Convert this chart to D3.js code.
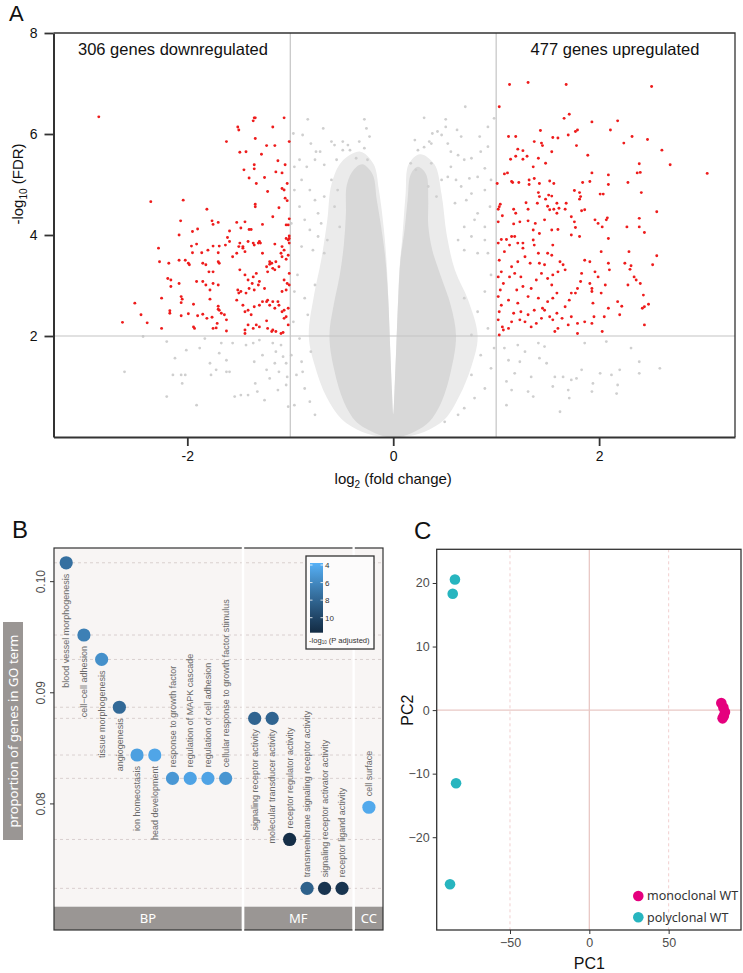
<!DOCTYPE html>
<html>
<head>
<meta charset="utf-8">
<script src="https://cdn.jsdelivr.net/npm/d3@7"></script>
<style>
  body { margin: 0; background: #fff; }
  svg { display: block; font-family: "Liberation Sans", Arial, sans-serif; }
</style>
</head>
<body>
<svg id="fig" width="743" height="973"></svg>
<script>
// ---------- Panel A: volcano plot data (log2 fold change, -log10 FDR) ----------
const downGenes = [
  [-2.86,6.34],[-2.355,4.66],[-2.04,4.69],[-1.81,4.51],[-2.065,4.28],[-1.76,4.28],[-1.75,4.21],[-1.70,4.25],[-1.95,4.07],[-1.90,4.12],
  [-2.08,4.00],[-1.62,5.85],[-1.51,6.14],[-1.50,6.08],[-1.35,6.32],[-1.34,6.32],[-1.36,6.26],[-1.06,6.32],[-1.17,6.14],[-1.34,5.91],
  [-1.49,5.64],[-1.43,5.65],[-1.23,5.77],[-1.15,5.77],[-1.28,5.60],[-1.01,5.85],[-1.45,5.29],[-1.35,5.39],[-1.35,5.31],[-1.12,5.47],
  [-1.40,5.13],[-1.25,5.14],[-1.14,5.25],[-1.08,5.23],[-1.05,5.39],[-1.33,5.02],[-1.03,5.02],[-1.22,4.86],[-1.08,4.92],[-1.06,4.89],
  [-1.05,4.73],[-1.03,4.68],[-1.34,4.61],[-1.34,4.56],[-1.11,4.54],[-1.17,4.36],[-1.01,4.32],[-1.52,4.25],[-1.44,4.26],[-1.48,4.14],
  [-1.40,4.11],[-1.38,4.11],[-1.27,4.21],[-1.04,4.20],[-1.02,4.20],[-1.61,3.95],[-1.59,4.08],[-1.50,3.77],[-1.46,3.77],[-1.36,3.84],
  [-1.35,3.80],[-1.30,3.87],[-1.29,3.84],[-1.15,3.82],[-1.08,3.77],[-1.04,3.93],[-1.01,3.98],[-1.02,3.90],[-2.28,3.74],
  [-2.27,3.47],[-2.18,3.44],[-2.08,3.50],[-2.02,3.50],[-1.99,3.44],[-1.98,3.41],[-1.96,3.78],[-1.91,3.82],[-1.86,3.65],[-1.80,3.70],
  [-1.75,3.78],[-1.70,3.65],[-1.69,3.78],[-1.95,3.65],[-1.85,3.44],[-1.82,3.41],[-1.79,3.27],[-1.70,3.47],[-1.69,3.44],[-1.75,3.27],
  [-1.63,3.80],[-1.59,3.87],[-1.56,3.57],[-1.52,3.64],[-1.49,3.84],[-1.46,3.74],[-1.44,3.67],[-1.41,3.87],[-1.31,3.84],[-1.27,3.64],
  [-1.20,3.47],[-1.18,3.44],[-1.14,3.47],[-1.11,3.37],[-1.17,3.34],[-1.15,3.31],[-1.22,3.27],[-1.09,3.64],[-1.08,3.57],[-1.06,3.70],
  [-1.04,3.52],[-1.02,3.60],[-1.01,3.93],[-1.01,3.84],
  [-1.91,3.08],[-1.85,3.08],[-1.82,3.01],[-1.78,2.91],[-1.75,3.04],[-1.70,3.01],[-2.19,3.14],[-2.16,3.11],[-2.08,3.04],[-2.16,2.98],
  [-2.06,2.78],[-2.05,2.73],[-1.94,2.63],[-2.06,2.66],[-2.25,2.75],[-2.51,2.65],[-2.17,2.50],[-2.17,2.45],[-2.45,2.42],[-2.39,2.26],
  [-2.63,2.27],[-2.25,2.15],[-2.06,2.40],[-1.99,2.44],[-1.94,2.18],[-1.93,2.15],[-1.90,2.40],[-1.85,2.43],[-1.81,2.35],[-1.76,2.37],
  [-1.71,2.25],[-1.70,2.53],[-1.69,2.51],[-1.62,2.32],[-1.62,2.10],[-1.78,2.73],[-1.70,2.59],[-1.67,2.45],[-1.64,2.42],[-1.75,2.15],
  [-1.72,2.16],[-1.52,2.71],[-1.51,2.91],[-1.50,2.85],[-1.48,2.88],[-1.43,2.85],[-1.40,2.94],[-1.37,3.04],[-1.35,2.91],[-1.31,3.01],
  [-1.30,3.08],[-1.25,2.94],[-1.23,2.68],[-1.22,2.71],[-1.20,2.61],[-1.17,2.68],[-1.15,2.55],[-1.12,2.68],[-1.11,2.61],[-1.08,2.48],
  [-1.06,2.51],[-1.04,2.38],[-1.02,2.55],[-1.02,2.22],[-1.06,2.35],[-1.46,2.61],[-1.44,2.48],[-1.41,2.51],[-1.38,2.42],[-1.35,2.58],
  [-1.30,2.61],[-1.27,2.68],[-1.33,2.22],[-1.30,2.18],[-1.23,2.30],[-1.22,2.15],[-1.17,2.12],[-1.14,2.09],[-1.09,2.05],[-1.07,2.07],
  [-1.44,2.12],[-1.41,2.22],[-1.36,2.15],[-1.18,2.09],[-1.44,2.05],[-1.49,3.31],[-1.44,3.21],[-1.41,3.11],[-1.36,3.17],[-1.33,3.24],
  [-1.23,3.37],[-1.20,3.42],[-1.06,3.11],[-1.03,3.04],[-1.08,2.88],[-1.04,2.91],[-1.01,3.24],[-1.01,3.01]
];
const upGenes = [
  [1.13,6.98],[1.31,7.02],[1.68,6.98],[2.51,6.94],[1.03,6.54],[1.66,6.31],[1.71,6.39],[1.93,6.24],[2.18,6.26],[1.43,6.07],
  [1.12,5.95],[1.19,5.95],[1.55,5.93],[1.60,5.92],[1.70,5.98],[1.77,6.05],[1.79,6.08],[2.11,6.08],[2.32,5.95],[2.47,5.89],
  [2.24,5.82],[2.61,5.68],[1.37,5.85],[1.44,5.82],[1.45,5.77],[1.78,5.77],[1.89,5.58],[1.54,5.65],[1.21,5.70],[1.26,5.67],
  [1.30,5.56],[1.19,5.56],[1.26,5.50],[1.41,5.52],[1.14,5.50],[1.36,5.35],[1.48,5.42],[2.69,5.39],[3.05,5.22],[2.39,5.41],
  [2.37,5.23],[2.40,5.24],[2.28,5.04],[2.09,5.19],[2.09,5.00],[1.93,5.23],[1.91,5.06],[1.84,5.04],[1.08,5.21],[1.11,5.23],
  [1.15,5.06],[1.16,5.04],[1.22,5.04],[1.32,5.09],[1.32,5.00],[1.01,5.02],[1.37,5.12],[1.52,5.07],[1.56,5.02],[1.42,5.02],
  [2.41,4.84],[2.56,4.46],[2.01,4.81],[2.04,4.81],[1.76,4.88],[1.81,4.84],[1.82,4.76],[1.81,4.71],[1.41,4.84],[1.42,4.76],
  [1.48,4.71],[1.51,4.79],[1.54,4.77],[1.59,4.63],[1.61,4.53],[1.68,4.63],[1.73,4.36],[1.83,4.48],[1.86,4.50],[2.08,4.34],
  [1.04,4.61],[1.02,4.51],[1.03,4.56],[1.06,4.38],[1.02,4.26],[1.17,4.51],[1.19,4.43],[1.29,4.64],[1.31,4.51],[1.40,4.63],
  [1.50,4.57],[1.59,4.43],[1.31,4.28],[1.38,4.23],[1.47,4.30],[1.52,4.50],[1.56,4.51],[1.67,4.51],[1.76,4.26],[1.77,4.15],
  [1.96,4.30],[1.99,4.23],[2.03,4.16],[2.07,4.30],[2.27,4.16],[2.39,4.33],[2.39,4.16],[2.44,4.05],[1.17,4.22],[1.23,4.26],
  [1.36,4.10],[1.10,3.91],[1.05,3.91],[1.18,3.97],[1.26,3.84],[1.36,3.90],[1.42,4.03],[1.54,4.10],[1.60,4.11],[1.73,4.00],
  [1.81,3.97],[2.09,3.93],[2.29,3.67],[2.56,3.59],[2.52,3.41],[2.25,3.44],[2.31,3.39],[2.30,3.32],[2.34,3.17],[2.36,3.11],
  [2.28,3.01],[2.40,3.04],[2.43,2.81],[2.44,2.58],[2.48,2.63],[2.42,2.55],[2.44,2.22],[2.20,2.42],[2.18,2.68],[2.22,2.59],
  [2.05,2.38],[2.09,2.55],[2.02,3.67],[2.09,3.44],[2.10,3.31],[2.06,3.01],[2.02,2.85],[1.93,2.88],[1.94,2.65],[1.95,2.38],
  [2.03,2.09],[1.93,2.25],[1.86,2.28],[1.79,2.25],[1.79,2.05],[1.86,3.50],[1.91,3.47],[1.96,3.27],[1.99,3.17],[1.91,3.04],
  [1.93,2.94],[1.83,3.24],[1.82,3.08],[1.79,2.94],[1.77,2.85],[1.73,2.85],[1.71,2.71],[1.67,2.58],[1.73,2.38],[1.70,2.22],
  [1.64,2.35],[1.60,2.15],[1.57,2.09],[1.55,2.32],[1.59,2.45],[1.62,3.47],[1.65,3.41],[1.67,3.31],[1.60,3.27],[1.55,3.21],
  [1.50,3.14],[1.54,3.01],[1.59,2.85],[1.55,2.75],[1.50,2.68],[1.47,2.51],[1.52,2.38],[1.44,2.35],[1.39,2.25],[1.34,2.18],
  [1.31,2.42],[1.28,2.28],[1.24,2.48],[1.23,2.32],[1.37,3.80],[1.41,3.64],[1.42,3.44],[1.44,3.24],[1.39,3.11],[1.34,2.94],
  [1.31,2.78],[1.41,2.75],[1.45,2.55],[1.37,2.51],[1.50,3.64],[1.47,3.41],[1.55,3.80],[1.54,3.60],[1.28,3.57],[1.33,3.44],
  [1.21,3.47],[1.18,3.24],[1.24,3.17],[1.26,2.98],[1.15,3.37],[1.13,3.17],[1.20,2.91],[1.12,2.71],[1.21,2.65],[1.17,2.45],
  [1.15,2.28],[1.12,2.15],[1.07,2.12],[1.03,2.02],[1.06,2.18],[1.02,2.32],[1.03,2.48],[1.05,2.61],[1.02,2.78],[1.04,2.91],
  [1.07,3.04],[1.02,3.17],[1.05,3.27],[1.03,3.50],[1.08,3.67],[1.02,3.84],[1.13,3.80],[1.21,3.84],[1.26,3.74],[1.15,3.97]
];
// non-significant genes drawn one by one outside the dense core
const otherGenes = [
  [-2.61,1.29],[-2.43,1.99],[-2.20,1.89],[-2.12,1.56],[-2.20,0.80],[-2.14,1.23],[-2.06,1.23],[-2.02,1.23],[-2.05,1.06],[-2.01,1.72],
  [-1.91,0.63],[-1.88,1.76],[-1.83,1.95],[-1.78,1.46],[-1.77,1.23],[-1.72,1.33],[-1.69,1.66],[-1.67,1.86],[-1.62,1.52],[-1.62,1.29],
  [-1.59,1.29],[-1.56,1.86],[-1.54,0.80],[-1.48,0.83],[-1.41,0.83],[-1.43,1.82],[-1.36,1.86],[-1.35,1.49],[-1.34,1.06],[-1.32,0.90],
  [-1.30,1.92],[-1.27,1.62],[-1.25,0.73],[-1.23,1.33],[-1.20,1.16],[-1.17,1.86],[-1.15,1.46],[-1.14,1.69],[-1.12,0.93],[-1.11,1.29],
  [-1.09,1.82],[-1.07,1.59],[-1.04,1.03],[-1.04,1.46],[-1.02,0.60],[-1.03,1.19],
  [1.08,1.76],[1.12,1.52],[1.10,1.10],[1.15,0.93],[1.10,0.63],[1.18,1.26],[1.21,1.82],[1.23,1.49],[1.28,1.69],[1.31,0.90],
  [1.34,1.19],[1.36,0.80],[1.41,1.86],[1.42,1.56],[1.47,1.79],[1.49,1.46],[1.55,1.00],[1.57,1.19],[1.62,0.50],[1.65,1.19],
  [1.70,0.93],[1.71,0.77],[1.73,1.13],[1.78,1.16],[1.83,1.33],[1.86,1.86],[1.93,0.90],[1.94,1.06],[2.01,1.26],[2.07,1.89],
  [2.12,1.23],[2.18,1.03],[2.17,0.86],[2.20,1.33],[2.31,1.76],[2.39,1.26],[2.39,1.49],[2.59,1.36],
  [-0.83,6.29],[-0.28,6.29],[-0.26,6.11],[-0.68,6.11],[-0.88,5.98],[-0.97,6.01],[0.30,6.32],[0.51,6.29],[0.70,6.54],[0.51,6.14],
  [0.43,6.05],[0.38,6.01],[0.47,5.98],[0.35,5.85],[0.37,5.81],[0.62,6.08],[0.66,5.95],[0.92,6.14],[0.84,5.95],[0.98,6.31],
  [0.21,5.88],[0.24,5.68],[0.30,5.74],[-0.80,5.81],[-0.75,5.65],[-0.71,5.65],[-0.60,5.85],[-0.57,5.78],[-0.49,5.85],[-0.44,5.78],
  [-0.42,5.68],[-0.33,5.85],[-0.28,5.72],[-0.23,5.95],[-0.49,5.68],[-0.91,5.49],[-0.96,5.35],[-0.84,5.35],[-0.76,5.49],[-0.67,5.39],
  [-0.55,5.49],[-0.36,5.52],[-0.25,5.49],[-0.89,5.09],[-0.96,4.89],[-0.81,4.89],[-0.76,4.69],[-0.91,4.56],[-0.86,4.30],[-0.73,4.43],
  [-0.99,4.23],[-0.81,4.10],[-0.73,3.97],[-0.89,3.77],[-0.78,3.70],[-0.67,3.64],[-0.64,3.90],
  [0.53,5.81],[0.56,5.65],[0.63,5.58],[0.69,5.49],[0.76,5.52],[0.85,5.65],[0.92,5.75],[0.89,5.32],[0.82,5.15],[0.74,5.12],
  [0.66,4.96],[0.61,5.09],[0.56,5.35],[0.53,5.15],[0.76,4.82],[0.89,4.89],[0.95,5.09],[0.71,4.69],[0.60,4.63],[0.82,4.43],
  [0.94,4.56],[0.79,4.30],[0.69,4.16],[0.89,4.16],[0.76,3.97],[0.89,3.90],[0.63,3.90],[0.69,3.70],[0.82,3.64],[0.92,3.64],
  [-0.60,5.09],[-0.54,4.89],[-0.67,4.76],[-0.57,4.56],[-0.70,4.23],[-0.52,4.16],[0.17,5.42],[0.22,5.29],[0.47,5.09],[0.37,5.42],
  [0.42,4.76],[0.34,4.96],
  [-0.93,3.21],[-0.96,2.88],[-0.86,2.75],[-0.97,2.28],[-0.91,1.95],[-0.99,1.62],[-0.89,1.49],[-0.94,1.23],[-0.86,0.96],[-0.81,0.70],
  [-0.96,0.63],[-0.76,0.44],[-0.88,1.29],[-0.80,1.69],[-0.83,2.42],[-0.76,3.01],
  [0.95,3.21],[0.89,2.88],[0.82,2.48],[0.92,2.15],[0.98,1.76],[0.85,1.62],[0.95,1.36],[0.76,1.23],[0.89,0.96],[0.79,0.77],
  [0.69,0.57],[0.63,0.44],[0.50,0.30],[0.76,2.02],[0.69,2.75]
];
// outline of the densely packed V of non-significant genes
const coreCloud = [
  [-0.06,0],[-0.22,0.12],[-0.36,0.3],[-0.48,0.7],[-0.57,1.3],[-0.62,2.0],[-0.58,2.6],[-0.52,3.2],[-0.48,3.8],[-0.46,4.4],
  [-0.45,5.0],[-0.38,5.3],[-0.30,5.4],[-0.20,5.2],[-0.16,4.7],[-0.12,4.2],[-0.08,3.6],[-0.05,2.8],[-0.03,1.8],[-0.012,0.9],
  [0,0.45],[0.012,0.9],[0.03,1.8],[0.05,2.8],[0.07,3.5],[0.11,4.1],[0.14,4.7],[0.17,5.2],[0.24,5.35],[0.32,5.2],
  [0.34,4.7],[0.34,4.2],[0.38,3.7],[0.46,3.2],[0.56,2.6],[0.61,2.0],[0.56,1.3],[0.47,0.7],[0.35,0.3],[0.22,0.12],[0.06,0]
];
const haloCloud = [
  [-0.10,0],[-0.30,0.1],[-0.50,0.35],[-0.65,0.8],[-0.76,1.4],[-0.82,2.0],[-0.77,2.8],[-0.70,3.5],[-0.64,4.3],[-0.60,5.0],
  [-0.50,5.45],[-0.32,5.65],[-0.19,5.4],[-0.14,4.9],[-0.09,4.1],[-0.06,3.3],[-0.04,2.3],[-0.015,1.0],[0,0.45],[0.015,1.0],
  [0.04,2.3],[0.06,3.3],[0.09,4.0],[0.12,4.8],[0.15,5.4],[0.26,5.6],[0.40,5.4],[0.47,4.8],[0.52,4.0],[0.60,3.3],
  [0.73,2.7],[0.82,2.0],[0.76,1.4],[0.64,0.8],[0.50,0.35],[0.30,0.1],[0.10,0]
];
const fcCut = 1;
const fdrCut = 2;
const downLabel = "306 genes downregulated";
const upLabel = "477 genes upregulated";
const volcanoXTicks = [-2, 0, 2];
const volcanoYTicks = [2, 4, 6, 8];

// ---------- Panel B: GO enrichment ----------
const goTerms = [
  "blood vessel morphogenesis", "cell\u2212cell adhesion", "tissue morphogenesis", "angiogenesis",
  "ion homeostasis", "head development", "response to growth factor", "regulation of MAPK cascade",
  "regulation of cell adhesion", "cellular response to growth factor stimulus",
  "signaling receptor activity", "molecular transducer activity", "receptor regulator activity",
  "transmembrane signaling receptor activity", "signaling receptor activator activity", "receptor ligand activity",
  "cell surface"
];
const goOntology = ["BP","BP","BP","BP","BP","BP","BP","BP","BP","BP","MF","MF","MF","MF","MF","MF","CC"];
const goProportion = [0.1017, 0.0952, 0.0930, 0.0887, 0.0844, 0.0844, 0.0823, 0.0823, 0.0823, 0.0823,
                      0.0877, 0.0877, 0.0768, 0.0724, 0.0724, 0.0724, 0.0797];
const goNegLogP = [7.4, 6.5, 5.6, 7.8, 4.7, 4.4, 5.2, 4.5, 4.5, 5.3, 8.1, 8.1, 11.5, 8.3, 11.1, 11.1, 4.2];
const ontologies = ["BP", "MF", "CC"];
const goYTicks = [0.08, 0.09, 0.10];
const colorTicks = [4, 6, 8, 10];

// ---------- Panel C: PCA ----------
const pcaGroups = ["monoclonal WT", "polyclonal WT"];
const monoPC1 = [83.2, 84.5, 85.5, 84.8, 84.0];
const monoPC2 = [1.1, 0.4, -0.3, -0.9, -1.3];
const polyPC1 = [-84.7, -86.1, -84.0, -87.8];
const polyPC2 = [20.55, 18.3, -11.5, -27.4];
const pcaXTicks = [-50, 0, 50];
const pcaYTicks = [-20, -10, 0, 10, 20];

const svg = d3.select("#fig");
const minus = v => String(v).replace("-", "\u2212");

// ================= Panel A =================
const a = {left: 53.5, right: 735, top: 33, bottom: 437};
const xA = d3.scaleLinear().domain([-3.3, 3.32]).range([a.left, a.right]);
const yA = d3.scaleLinear().domain([0, 8]).range([a.bottom, a.top]);
const gA = svg.append("g");

gA.append("clipPath").attr("id", "clipA")
  .append("rect").attr("x", a.left).attr("y", a.top)
  .attr("width", a.right - a.left).attr("height", a.bottom - a.top);

const cloudLine = d3.line()
  .x(d => xA(d[0])).y(d => yA(d[1]))
  .curve(d3.curveCatmullRomClosed.alpha(0.5));

const cloud = gA.append("g").attr("clip-path", "url(#clipA)");
cloud.append("path").datum(haloCloud).attr("d", cloudLine).attr("fill", "#ebebeb");
cloud.append("path").datum(coreCloud).attr("d", cloudLine).attr("fill", "#d8d8d8");
cloud.selectAll("circle.other").data(otherGenes).join("circle")
  .attr("class", "other")
  .attr("cx", d => xA(d[0])).attr("cy", d => yA(d[1]))
  .attr("r", 1.4).attr("fill", "#cfcfcf");

// threshold lines
gA.append("line").attr("x1", a.left).attr("x2", a.right)
  .attr("y1", yA(fdrCut)).attr("y2", yA(fdrCut))
  .attr("stroke", "#c4c4c4").attr("stroke-width", 1.2);
[-fcCut, fcCut].forEach(v => {
  gA.append("line").attr("x1", xA(v)).attr("x2", xA(v))
    .attr("y1", a.top).attr("y2", a.bottom)
    .attr("stroke", "#c4c4c4").attr("stroke-width", 1.2);
});

gA.selectAll("circle.sig").data(downGenes.concat(upGenes)).join("circle")
  .attr("class", "sig")
  .attr("cx", d => xA(d[0])).attr("cy", d => yA(d[1]))
  .attr("r", 1.45).attr("fill", "#ee1c1c");

// frame + axes
gA.append("path")
  .attr("d", `M${a.left},${a.top}H${a.right}V${a.bottom}`)
  .attr("fill", "none").attr("stroke", "#333").attr("stroke-width", 1.3);

const axA_y = gA.append("g").attr("transform", `translate(${a.left},0)`)
  .call(d3.axisLeft(yA).tickValues(volcanoYTicks).tickSize(9).tickPadding(7).tickSizeOuter(0));
const axA_x = gA.append("g").attr("transform", `translate(0,${a.bottom})`)
  .call(d3.axisBottom(xA).tickValues(volcanoXTicks).tickSize(9).tickPadding(5)
    .tickFormat(d => String(d)).tickSizeOuter(0));
[axA_y, axA_x].forEach(ax => {
  ax.select(".domain").attr("stroke", "#333").attr("stroke-width", 2);
  ax.selectAll(".tick line").attr("stroke", "#333").attr("stroke-width", 1.8);
  ax.selectAll(".tick text").attr("font-size", 14).attr("fill", "#111")
    .attr("font-family", "Liberation Sans, Arial, sans-serif");
});

gA.append("text").attr("x", 78).attr("y", 55).attr("font-size", 16.5).attr("fill", "#111").text(downLabel);
gA.append("text").attr("x", 615).attr("y", 55).attr("text-anchor", "middle")
  .attr("font-size", 16.5).attr("fill", "#111").text(upLabel);

const xLabA = gA.append("text").attr("x", xA(0)).attr("y", 484).attr("text-anchor", "middle")
  .attr("font-size", 15).attr("fill", "#111");
xLabA.append("tspan").text("log");
xLabA.append("tspan").attr("font-size", 10).attr("dy", 4).text("2");
xLabA.append("tspan").attr("dy", -4).text(" (fold change)");

const yLabA = gA.append("text").attr("transform", "translate(23,184) rotate(-90)")
  .attr("text-anchor", "middle").attr("font-size", 15).attr("fill", "#111");
yLabA.append("tspan").text("-log");
yLabA.append("tspan").attr("font-size", 10).attr("dy", 4).text("10");
yLabA.append("tspan").attr("dy", -4).text(" (FDR)");

svg.append("text").attr("x", 9).attr("y", 21).attr("font-size", 22).attr("fill", "#111").text("A");

// ================= Panel B =================
const b = {left: 54, right: 383, top: 548, plotBottom: 906.7, bottom: 930};
const facets = [
  {id: "BP", x0: 54, x1: 241.8, pad: 0.8, align: 0.43},
  {id: "MF", x0: 244.2, x1: 352.5, pad: 0.6, align: 0.5},
  {id: "CC", x0: 354.8, x1: 383, pad: 0.6, align: 0.5}
];
const yB = d3.scaleLinear().domain([0.07075, 0.10303]).range([b.plotBottom, b.top]);
const colorB = d3.scaleLinear().domain([3.77, 11.71]).range(["#56B1F7", "#132B43"])
  .interpolate(d3.interpolateLab);

const goData = goTerms.map((t, i) => ({
  term: t, ont: goOntology[i], prop: goProportion[i], p: goNegLogP[i]
}));
const xB = {};
facets.forEach(f => {
  xB[f.id] = d3.scalePoint()
    .domain(goData.filter(d => d.ont === f.id).map(d => d.term))
    .range([f.x0, f.x1]).padding(f.pad).align(f.align);
});
const xPos = d => xB[d.ont](d.term);

const gB = svg.append("g");
gB.append("rect").attr("x", b.left).attr("y", b.top)
  .attr("width", b.right - b.left).attr("height", b.plotBottom - b.top).attr("fill", "#f8f5f4");

// dashed guides at each BP / MF proportion
const guideY = Array.from(new Set(goData.filter(d => d.ont !== "CC").map(d => d.prop)));
gB.selectAll("line.guide").data(guideY).join("line")
  .attr("class", "guide")
  .attr("x1", b.left).attr("x2", b.right)
  .attr("y1", d => yB(d)).attr("y2", d => yB(d))
  .attr("stroke", "#d6cccb").attr("stroke-width", 0.9).attr("stroke-dasharray", "3,3");

// strips
facets.forEach(f => {
  gB.append("rect").attr("x", f.x0).attr("y", b.plotBottom)
    .attr("width", f.x1 - f.x0).attr("height", b.bottom - b.plotBottom).attr("fill", "#9a9694");
  gB.append("text").attr("x", (f.x0 + f.x1) / 2).attr("y", (b.plotBottom + b.bottom) / 2 + 4.5)
    .attr("text-anchor", "middle").attr("font-size", 13).attr("fill", "#fff")
    .attr("font-family", "Noto Sans, Open Sans, sans-serif").text(f.id);
});

// outer frame, then white gutters between facets
gB.append("rect").attr("x", b.left).attr("y", b.top)
  .attr("width", b.right - b.left).attr("height", b.bottom - b.top)
  .attr("fill", "none").attr("stroke", "#333").attr("stroke-width", 1.2);
facets.slice(1).forEach((f, i) => {
  const prev = facets[i];
  gB.append("rect").attr("x", prev.x1).attr("y", b.top - 1.5)
    .attr("width", f.x0 - prev.x1).attr("height", b.bottom - b.top + 3).attr("fill", "#fff");
});

// points and labels
gB.selectAll("circle.go").data(goData).join("circle")
  .attr("class", "go")
  .attr("cx", xPos).attr("cy", d => yB(d.prop))
  .attr("r", 6.6).attr("fill", d => colorB(d.p));

gB.selectAll("text.go").data(goData).join("text")
  .attr("class", "go")
  .attr("transform", d => {
    const below = d.prop > 0.083;
    const y = yB(d.prop) + (below ? 11 : -11);
    return `translate(${xPos(d) + 3.2},${y}) rotate(-90)`;
  })
  .attr("text-anchor", d => d.prop > 0.083 ? "end" : "start")
  .attr("font-size", 9).attr("fill", "#6a6a6a")
  .text(d => d.term);

// y axis
gB.selectAll("line.ytick").data(goYTicks).join("line")
  .attr("class", "ytick")
  .attr("x1", b.left - 4).attr("x2", b.left)
  .attr("y1", d => yB(d)).attr("y2", d => yB(d))
  .attr("stroke", "#333").attr("stroke-width", 1);
gB.selectAll("text.ytick").data(goYTicks).join("text")
  .attr("class", "ytick")
  .attr("transform", d => `translate(45,${yB(d)}) rotate(-90)`)
  .attr("text-anchor", "middle").attr("font-size", 12).attr("fill", "#4d4d4d")
  .text(d3.format(".2f"));

gB.append("rect").attr("x", 3).attr("y", 622).attr("width", 20).attr("height", 218).attr("fill", "#9a9694");
gB.append("text").attr("transform", "translate(17.5,731) rotate(-90)")
  .attr("text-anchor", "middle").attr("font-size", 13).attr("fill", "#fff")
  .attr("font-family", "Noto Sans, Open Sans, sans-serif")
  .text("proportion of genes in GO term");

// colour legend
const leg = {x: 306, y: 556, w: 68, h: 93, barX: 310, barW: 13, barTop: 563, barBottom: 632.7};
const yLeg = d3.scaleLinear().domain(colorB.domain()).range([leg.barTop, leg.barBottom]);
gB.append("rect").attr("x", leg.x).attr("y", leg.y).attr("width", leg.w).attr("height", leg.h)
  .attr("fill", "#fcfbfb").attr("stroke", "#333").attr("stroke-width", 1.3);
const grad = svg.append("defs").append("linearGradient").attr("id", "goGrad")
  .attr("x1", 0).attr("x2", 0).attr("y1", 0).attr("y2", 1);
d3.range(0, 1.0001, 0.1).forEach(t => {
  const v = colorB.domain()[0] + t * (colorB.domain()[1] - colorB.domain()[0]);
  grad.append("stop").attr("offset", t).attr("stop-color", colorB(v));
});
gB.append("rect").attr("x", leg.barX).attr("y", leg.barTop)
  .attr("width", leg.barW).attr("height", leg.barBottom - leg.barTop).attr("fill", "url(#goGrad)");
colorTicks.forEach(v => {
  [[leg.barX, leg.barX + 2.5], [leg.barX + leg.barW - 2.5, leg.barX + leg.barW]].forEach(([x1, x2]) => {
    gB.append("line").attr("x1", x1).attr("x2", x2).attr("y1", yLeg(v)).attr("y2", yLeg(v))
      .attr("stroke", "#fff").attr("stroke-width", 0.8);
  });
  gB.append("text").attr("x", leg.barX + leg.barW + 2).attr("y", yLeg(v) + 3)
    .attr("font-size", 8).attr("fill", "#333").text(v);
});
const legTitle = gB.append("text").attr("x", 309).attr("y", 642.5).attr("font-size", 7.6).attr("fill", "#333");
legTitle.append("tspan").text("-log");
legTitle.append("tspan").attr("font-size", 4.5).attr("dy", 1.5).text("10");
legTitle.append("tspan").attr("dy", -1.5).text(" (P adjusted)");

svg.append("text").attr("x", 12).attr("y", 538).attr("font-size", 24).attr("fill", "#111").text("B");

// ================= Panel C =================
const c = {left: 436.7, right: 741, top: 549.3, bottom: 930};
const xC = d3.scaleLinear().domain([-96.2, 95.6]).range([c.left, c.right]);
const yC = d3.scaleLinear().domain([-34.6, 25.3]).range([c.bottom, c.top]);
const pcaColor = d3.scaleOrdinal().domain(pcaGroups).range(["#e5007e", "#27b5bf"]);
const gC = svg.append("g");

gC.selectAll("line.vgrid").data(pcaXTicks.filter(d => d !== 0)).join("line")
  .attr("class", "vgrid")
  .attr("x1", d => xC(d)).attr("x2", d => xC(d)).attr("y1", c.top).attr("y2", c.bottom)
  .attr("stroke", "#efc9c9").attr("stroke-width", 0.9).attr("stroke-dasharray", "3,3");
gC.append("line").attr("x1", xC(0)).attr("x2", xC(0)).attr("y1", c.top).attr("y2", c.bottom)
  .attr("stroke", "#e9c8c5").attr("stroke-width", 1.3);
gC.append("line").attr("x1", c.left).attr("x2", c.right).attr("y1", yC(0)).attr("y2", yC(0))
  .attr("stroke", "#e9c8c5").attr("stroke-width", 1.3);

const pcaPoints = monoPC1.map((v, i) => ({g: pcaGroups[0], x: v, y: monoPC2[i]}))
  .concat(polyPC1.map((v, i) => ({g: pcaGroups[1], x: v, y: polyPC2[i]})));
gC.selectAll("circle.pc").data(pcaPoints).join("circle")
  .attr("class", "pc")
  .attr("cx", d => xC(d.x)).attr("cy", d => yC(d.y))
  .attr("r", 5.3).attr("fill", d => pcaColor(d.g));

gC.append("rect").attr("x", c.left).attr("y", c.top)
  .attr("width", c.right - c.left).attr("height", c.bottom - c.top)
  .attr("fill", "none").attr("stroke", "#333").attr("stroke-width", 1.3);

const axC_x = gC.append("g").attr("transform", `translate(0,${c.bottom})`)
  .call(d3.axisBottom(xC).tickValues(pcaXTicks).tickSize(4).tickPadding(4).tickFormat(minus));
const axC_y = gC.append("g").attr("transform", `translate(${c.left},0)`)
  .call(d3.axisLeft(yC).tickValues(pcaYTicks).tickSize(4).tickPadding(3).tickFormat(minus));
[axC_x, axC_y].forEach(ax => {
  ax.select(".domain").remove();
  ax.selectAll(".tick line").attr("stroke", "#333");
  ax.selectAll(".tick text").attr("font-size", 12.5).attr("fill", "#4d4d4d")
    .attr("font-family", "Liberation Sans, Arial, sans-serif");
});

gC.append("text").attr("x", xC(0)).attr("y", 969).attr("text-anchor", "middle")
  .attr("font-size", 16).attr("fill", "#111").text("PC1");
gC.append("text").attr("transform", `translate(413,${yC(0)}) rotate(-90)`).attr("text-anchor", "middle")
  .attr("font-size", 16).attr("fill", "#111").text("PC2");

pcaGroups.forEach((g, i) => {
  const y = 896 + i * 21.3;
  gC.append("circle").attr("cx", 638.3).attr("cy", y).attr("r", 5.3).attr("fill", pcaColor(g));
  gC.append("text").attr("x", 647).attr("y", y + 4.3).attr("font-size", 12.5).attr("fill", "#333")
    .attr("font-family", "Noto Sans, Open Sans, sans-serif").text(g);
});

svg.append("text").attr("x", 414).attr("y", 539).attr("font-size", 24).attr("fill", "#111").text("C");
</script>
</body>
</html>
